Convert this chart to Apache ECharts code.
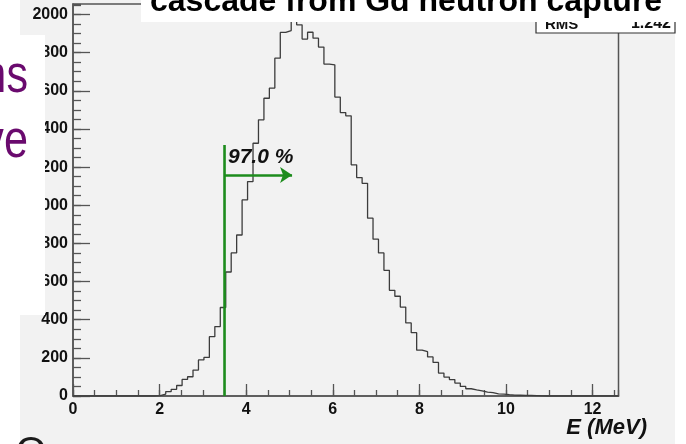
<!DOCTYPE html>
<html>
<head>
<meta charset="utf-8">
<script src="https://cdn.jsdelivr.net/npm/echarts@6/dist/echarts.min.js"></script>
<style>
  html, body { margin: 0; padding: 0; background: #ffffff; }
  #chart { width: 686px; height: 444px; }
</style>
</head>
<body>
<div id="chart"></div>
<script>
// Energy spectrum of the gamma cascade: 100 bins of 0.126 MeV from 0 to 12.6 MeV
const binLow = 0;
const binWidth = 0.126;
const counts = [
  0, 0, 0, 0, 0, 0, 0, 0, 0, 0, 0, 0, 0, 0, 0, 2,
  10, 23, 35, 55, 87, 101, 136, 189, 202, 311,
  364, 464, 650, 750, 844, 1028, 1124, 1325, 1448, 1561,
  1614, 1771, 1906, 1916, 1985, 1946, 1871, 1907, 1876, 1829,
  1740, 1736, 1567, 1486, 1469, 1212, 1145, 1115, 932, 822,
  750, 659, 554, 523, 466, 383, 332, 240, 232, 205,
  176, 120, 99, 86, 68, 50, 38, 32, 27, 20,
  18, 11, 10, 7, 5, 4, 3, 3, 2, 1,
  0, 0, 0, 0, 0, 0, 0, 0, 0, 0, 0, 0, 0, 0
];

// Axis ranges and tick steps
const xRange = [0, 12.6];
const yRange = [0, 2055];
const xMajorStep = 2, xMinorStep = 0.5;
const yMajorStep = 200, yMinorStep = 50;

// Energy cut marker and the fraction of events above it
const cutEnergy = 3.5;
const cutLineTop = 1316;
const arrowLevel = 1159;
const arrowEnd = 5.06;
const cutLabel = '97.0 %';
const cutLabelPos = [3.58, 1250];

// Texts
const titleText = 'cascade from Gd neutron capture';
const xAxisTitle = 'E (MeV)';
const statsName = 'RMS';
const statsValue = '1.242';
const sideWords = ['ns', 've'];

const histPoints = counts.map((c, i) => [binLow + i * binWidth, c]);
histPoints.push([binLow + counts.length * binWidth, counts[counts.length - 1]]);

const axisGray = '#555555';
const green = '#1d8c1d';
const sans = '"Liberation Sans", Arial, sans-serif';
const tickLabel = {
  fontFamily: sans, fontWeight: 'bold', fontSize: 16, color: '#111111',
  formatter: v => String(v)
};

const chart = echarts.init(document.getElementById('chart'), null, { renderer: 'canvas' });

chart.setOption({
  animation: false,
  backgroundColor: '#ffffff',
  grid: {
    left: 73, right: 67.5, top: 4, bottom: 48,
    show: true, borderColor: axisGray, borderWidth: 1.5, backgroundColor: 'transparent'
  },
  xAxis: [
    {
      type: 'value', min: xRange[0], max: xRange[1], interval: xMajorStep, position: 'bottom',
      axisLine: { onZero: false, lineStyle: { color: axisGray, width: 1.5 } },
      axisTick: { inside: true, length: 12, lineStyle: { color: axisGray, width: 1.3 } },
      axisLabel: Object.assign({ margin: 6, showMaxLabel: false }, tickLabel),
      splitLine: { show: false }
    },
    {
      type: 'value', min: xRange[0], max: xRange[1], interval: xMinorStep, position: 'bottom',
      axisLine: { show: false, onZero: false },
      axisTick: { inside: true, length: 6, lineStyle: { color: axisGray, width: 1.3 } },
      axisLabel: { show: false },
      splitLine: { show: false }
    }
  ],
  yAxis: [
    {
      type: 'value', min: yRange[0], max: yRange[1], interval: yMajorStep, position: 'left',
      axisLine: { show: true, onZero: false, lineStyle: { color: axisGray, width: 1.5 } },
      axisTick: { show: true, inside: true, length: 17, lineStyle: { color: axisGray, width: 1.3 } },
      axisLabel: Object.assign({ margin: 5, showMaxLabel: false }, tickLabel),
      splitLine: { show: false }
    },
    {
      type: 'value', min: yRange[0], max: yRange[1], interval: yMinorStep, position: 'left',
      axisLine: { show: false, onZero: false },
      axisTick: { show: true, inside: true, length: 8, lineStyle: { color: axisGray, width: 1.3 } },
      axisLabel: { show: false },
      splitLine: { show: false }
    }
  ],
  series: [
    {
      name: 'spectrum', type: 'line', step: 'end', data: histPoints,
      symbol: 'none', xAxisIndex: 0, yAxisIndex: 0, z: 3,
      lineStyle: { color: '#3c3c3c', width: 1.3 }
    },
    {
      name: 'cut', type: 'line', data: [[cutEnergy, 0], [cutEnergy, cutLineTop]],
      symbol: 'none', xAxisIndex: 0, yAxisIndex: 0, z: 4,
      lineStyle: { color: green, width: 2.6 },
      markLine: {
        silent: true, symbol: ['none', 'arrow'], symbolSize: [12, 12],
        label: { show: false },
        lineStyle: { color: green, width: 2.6, type: 'solid' },
        data: [[{ coord: [cutEnergy, arrowLevel] }, { coord: [arrowEnd, arrowLevel] }]]
      }
    }
  ]
});

const labelPx = chart.convertToPixel({ xAxisIndex: 0, yAxisIndex: 0 }, cutLabelPos);

chart.setOption({
  graphic: [
    // pad background
    { type: 'rect', z: -100, silent: true, shape: { x: 20, y: 0, width: 655, height: 444 }, style: { fill: '#f2f2f2' } },
    // text of the slide beside the pad
    { type: 'rect', z: 100, silent: true, shape: { x: 0, y: 35, width: 45, height: 280 }, style: { fill: '#ffffff' } },
    { type: 'text', z: 101, silent: true, x: 28, y: 77, scaleX: 0.8, style: { text: sideWords[0], font: '54px ' + sans, fill: '#6a0a6e', align: 'right', verticalAlign: 'middle' } },
    { type: 'text', z: 101, silent: true, x: 28, y: 142, scaleX: 0.8, style: { text: sideWords[1], font: '54px ' + sans, fill: '#6a0a6e', align: 'right', verticalAlign: 'middle' } },
    { type: 'text', z: 101, silent: true, x: 31, y: 454, style: { text: 'O', font: '40px ' + sans, fill: '#1a1a1a', align: 'center', verticalAlign: 'middle' } },
    // statistics box
    { type: 'rect', z: 101, silent: true, shape: { x: 536, y: -5, width: 139, height: 38 }, style: { fill: '#ffffff', stroke: '#333333', lineWidth: 1.2 } },
    { type: 'text', z: 101, silent: true, x: 545, y: 24.5, style: { text: statsName, font: 'bold 15px ' + sans, fill: '#111111', align: 'left', verticalAlign: 'middle' } },
    { type: 'text', z: 101, silent: true, x: 671, y: 24, style: { text: statsValue, font: 'bold 16px ' + sans, fill: '#111111', align: 'right', verticalAlign: 'middle' } },
    // title box
    { type: 'rect', z: 102, silent: true, shape: { x: 141, y: 0, width: 545, height: 22 }, style: { fill: '#ffffff' } },
    { type: 'text', z: 103, silent: true, x: 150, y: 2.5, style: { text: titleText, font: 'bold 32px ' + sans, fill: '#000000', align: 'left', verticalAlign: 'middle' } },
    // cut annotation
    { type: 'text', z: 20, silent: true, x: labelPx[0], y: labelPx[1], style: { text: cutLabel, font: 'italic bold 21px ' + sans, fill: '#111111', align: 'left', verticalAlign: 'middle' } },
    // x axis title
    { type: 'text', z: 20, silent: true, x: 647, y: 428, style: { text: xAxisTitle, font: 'italic bold 22px ' + sans, fill: '#111111', align: 'right', verticalAlign: 'middle' } }
  ]
});
</script>
</body>
</html>
